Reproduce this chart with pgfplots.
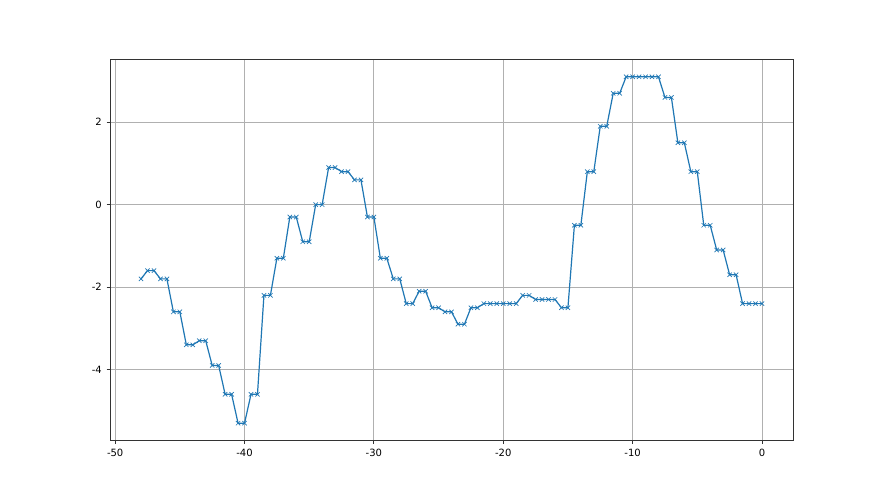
\documentclass[border=0pt]{standalone}
\usepackage{pgfplots}
\pgfplotsset{compat=1.18}
\usepackage{fontspec}
\setmainfont{DejaVu Sans}
\definecolor{mplblue}{HTML}{1F77B4}
\begin{document}
\begin{tikzpicture}[x=0.75pt,y=0.75pt]
\path[fill=white] (0,0) rectangle (880,495);
\begin{axis}[
  at={(110*0.75pt,54.5*0.75pt)}, anchor=south west,
  scale only axis, width=683*0.75pt, height=381*0.75pt,
  xmin=-50.4, xmax=2.4, ymin=-5.72, ymax=3.52,
  xtick={-50,-40,-30,-20,-10,0},
  ytick={-4,-2,0,2},
  minor tick num=0,
  grid=major,
  major grid style={color=black!31, line width=0.6pt},
  axis line style={color=black!80, line width=0.6pt},
  tick style={color=black!80, line width=0.6pt},
  tick align=outside, major tick length=2.6pt,
  xtick pos=bottom, ytick pos=left,
  tick label style={font=\fontsize{7.5pt}{9pt}\selectfont},
  /pgf/number format/assume math mode=true,
  /pgf/number format/.cd, use comma=false, 1000 sep={},
]
\addplot[color=mplblue, line width=0.9pt, mark=x, mark size=2.3pt, mark options={line width=0.5pt}] coordinates {
(-48,-1.8)
(-47.5,-1.6)(-47,-1.6)
(-46.5,-1.8)(-46,-1.8)
(-45.5,-2.6)(-45,-2.6)
(-44.5,-3.4)(-44,-3.4)
(-43.5,-3.3)(-43,-3.3)
(-42.5,-3.9)(-42,-3.9)
(-41.5,-4.6)(-41,-4.6)
(-40.5,-5.3)(-40,-5.3)
(-39.5,-4.6)(-39,-4.6)
(-38.5,-2.2)(-38,-2.2)
(-37.5,-1.3)(-37,-1.3)
(-36.5,-0.3)(-36,-0.3)
(-35.5,-0.9)(-35,-0.9)
(-34.5,0.0)(-34,0.0)
(-33.5,0.9)(-33,0.9)
(-32.5,0.8)(-32,0.8)
(-31.5,0.6)(-31,0.6)
(-30.5,-0.3)(-30,-0.3)
(-29.5,-1.3)(-29,-1.3)
(-28.5,-1.8)(-28,-1.8)
(-27.5,-2.4)(-27,-2.4)
(-26.5,-2.1)(-26,-2.1)
(-25.5,-2.5)(-25,-2.5)
(-24.5,-2.6)(-24,-2.6)
(-23.5,-2.9)(-23,-2.9)
(-22.5,-2.5)(-22,-2.5)
(-21.5,-2.4)(-21,-2.4)
(-20.5,-2.4)(-20,-2.4)
(-19.5,-2.4)(-19,-2.4)
(-18.5,-2.2)(-18,-2.2)
(-17.5,-2.3)(-17,-2.3)
(-16.5,-2.3)(-16,-2.3)
(-15.5,-2.5)(-15,-2.5)
(-14.5,-0.5)(-14,-0.5)
(-13.5,0.8)(-13,0.8)
(-12.5,1.9)(-12,1.9)
(-11.5,2.7)(-11,2.7)
(-10.5,3.1)(-10,3.1)
(-9.5,3.1)(-9,3.1)
(-8.5,3.1)(-8,3.1)
(-7.5,2.6)(-7,2.6)
(-6.5,1.5)(-6,1.5)
(-5.5,0.8)(-5,0.8)
(-4.5,-0.5)(-4,-0.5)
(-3.5,-1.1)(-3,-1.1)
(-2.5,-1.7)(-2,-1.7)
(-1.5,-2.4)(-1,-2.4)
(-0.5,-2.4)(0,-2.4)
};
\end{axis}
\end{tikzpicture}
\end{document}
